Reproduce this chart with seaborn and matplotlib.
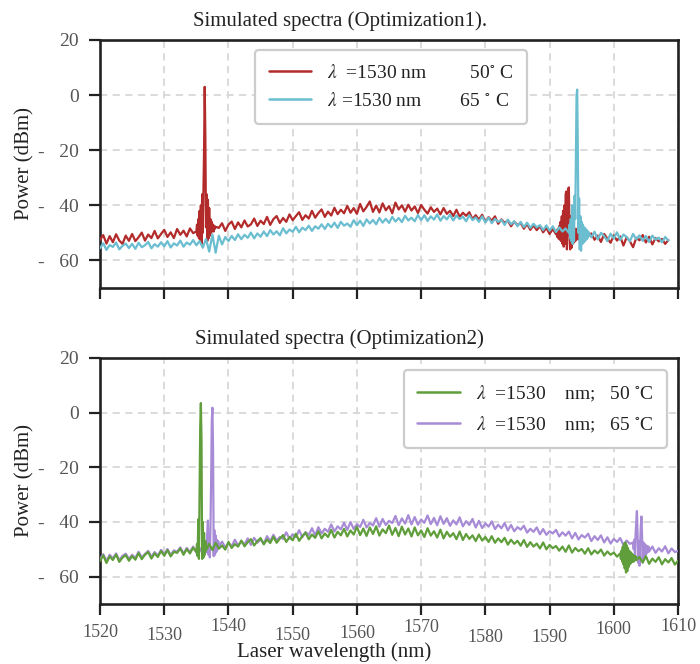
import numpy as np
import pandas as pd
import matplotlib
matplotlib.use("Agg")
import matplotlib.pyplot as plt
from matplotlib.transforms import ScaledTranslation
import seaborn as sns

# ---------------- data ----------------
titles = ["Simulated spectra (Optimization1).", "Simulated spectra (Optimization2)"]
x_label = "Laser wavelength (nm)"
y_label = "Power (dBm)"
x_ticks = [1520, 1530, 1540, 1550, 1560, 1570, 1580, 1590, 1600, 1610]
y_ticks = [20, 0, -20, -40, -60]
y_tick_labels = ["20", "0", "-   20", "-   40", "-   60"]

labels_top = [r"$\lambda$  =1530 nm         50$^{\circ}$ C",
              r"$\lambda$ =1530 nm        65 $^{\circ}$ C"]
labels_bot = [r"$\lambda$  =1530    nm;   50 $^{\circ}$C",
              r"$\lambda$  =1530    nm;   65 $^{\circ}$C"]

# --- top panel, 50 C (red) ---
red_a = [-52.5, -50.8, -53.9, -51.2, -53.4, -50.5, -52.8, -54.0, -51.0, -52.9,
         -50.4, -53.0, -51.6, -49.9, -52.8, -50.6, -51.9, -49.3, -52.0, -50.4,
         -48.9, -51.5, -49.8, -51.9, -48.6, -50.7, -49.2, -51.3, -48.4, -50.1]      # 1520-1534.5
red_pk1 = [-49.5, -47, -51, -45, -52, -42, -53, -40, -54, -36, -50, -35, -20, 3, -15, -48,
           -36, -53, -38, -52, -41, -51, -45, -50, -46, -49, -47, -49.5, -47.5, -48.5, -47.8]  # 1535.0-1538.0
red_b = [-48.2, -46.5, -49.3, -47.0, -45.9, -48.6, -46.2, -48.0, -45.5, -47.7,
         -46.9, -44.8, -47.5, -45.6, -46.8, -44.2, -47.1, -45.0, -43.9, -46.4,
         -44.6, -46.0, -43.3, -45.4, -43.9, -42.5, -45.3, -43.6, -44.8, -42.0,
         -44.5, -42.8, -41.5, -44.2, -42.3, -43.7, -40.9, -43.2, -41.6, -42.9,
         -40.2, -42.7, -41.0, -43.1, -39.5, -42.2, -40.6, -38.6, -42.4, -40.1,
         -42.6, -39.3, -41.8, -40.3, -42.9, -39.0, -41.5, -40.0, -42.3, -39.8,
         -41.9, -40.4, -42.8, -39.9, -41.6, -43.0, -40.7, -42.4, -41.2, -43.3,
         -41.0, -43.1, -42.0, -43.9, -41.6, -44.2, -42.7, -43.8, -42.5, -45.0,
         -43.6, -45.2, -43.4, -46.0, -44.3, -45.6, -44.0, -46.7, -45.1, -46.4,
         -45.5, -47.6, -45.9, -47.2, -46.4, -48.5, -46.8, -48.9, -47.3, -49.0,
         -47.6, -49.8, -48.2, -50.4, -48.6]                                          # 1538.5-1590.5
red_pk2 = [-50.5, -49.0, -51.5, -48.5, -52.0, -47.5, -52.5, -46.0, -53.0, -44.0,
           -54.0, -42.0, -55.0, -40.0, -54.0, -36.0, -35.0, -56.0, -45.0, -34.0,
           -33.5, -50.0, -56.0, -44.0, -55.5, -47.0, -54.0, -48.0, -53.5, -49.0,
           -53.0, -48.5, -52.5, -49.5, -52.0, -49.0, -52.5, -50.0, -52.0, -49.5,
           -51.5, -50.0, -52.0, -49.8, -51.8, -50.2, -52.0, -50.0, -51.5, -50.5, -51.2]  # 1591.0-1596.0
red_c = [-50.2, -52.5, -51.0, -53.3, -50.4, -52.1, -53.6, -50.9, -52.8, -51.3,
         -54.6, -51.6, -53.0, -55.2, -51.8, -52.7, -50.8, -53.5, -51.4, -54.2,
         -51.9, -53.1, -52.2, -54.0, -52.6]                                          # 1596.5-1608.5

# --- top panel, 65 C (cyan) ---
cyan_a = [-55.6, -53.8, -56.2, -54.4, -55.1, -53.5, -56.0, -54.7, -53.9, -55.5,
          -54.0, -55.8, -53.6, -55.2, -54.5, -53.3, -55.6, -54.1, -55.0, -53.4,
          -54.9, -53.0, -55.3, -53.8, -54.6, -52.8, -55.0, -53.5, -54.3, -52.6,
          -54.5, -53.0, -55.4, -52.2, -56.8, -50.6, -57.2, -51.0, -54.2, -51.5,
          -53.0, -51.1, -52.6, -50.5, -52.3, -50.7, -51.8, -49.9, -52.0, -50.2,
          -51.4, -49.5, -51.2, -49.0, -50.6, -49.4, -50.9, -48.3, -50.2, -48.8,
          -49.6, -47.8, -49.8, -48.1, -49.0, -47.4, -49.3, -47.6, -48.5, -46.9,
          -48.6, -46.7, -48.0, -46.3, -48.2, -46.0, -47.4, -46.6, -47.8, -45.4,
          -47.2, -45.6, -47.5, -45.1, -46.6, -45.3, -46.9, -44.6, -46.3, -44.9,
          -46.4, -44.2, -45.9, -44.6, -46.1, -43.8, -45.5, -44.5, -45.8, -43.5,
          -45.4, -43.6, -45.7, -44.0, -45.2, -43.3, -45.6, -43.9, -45.1, -43.4,
          -45.5, -43.7, -45.0, -44.1, -45.8, -43.6, -45.4, -44.4, -46.0, -44.0,
          -46.2, -44.5, -46.5, -44.9, -46.0, -45.3, -47.1, -45.2, -46.9, -45.8,
          -47.6, -46.0, -47.9, -46.3, -48.2, -46.7, -48.0, -47.2, -49.0, -47.3,
          -49.2, -47.6, -49.7, -48.0, -49.5, -48.4]                                  # 1520-1592.5
cyan_pk = [-50.0, -47.0, -52.0, -45.0, -53.0, -40.0, -54.0, -42.0, -53.0, -36.5,
           -45.0, -22.0, 0.0, 2.0, -20.0, -50.0, -37.5, -56.0, -44.0, -56.5,
           -46.0, -54.0, -47.0, -53.5, -48.0, -53.0, -48.5, -52.5, -49.0, -52.0, -49.5]  # 1593.0-1596.0
cyan_c = [-51.6, -49.6, -52.4, -50.0, -51.2, -53.0, -50.3, -52.1, -49.8, -52.6,
          -50.6, -51.5, -53.1, -50.4, -52.3, -50.9, -52.9, -51.1, -53.3, -51.0,
          -52.5, -51.7, -53.4, -51.5, -52.8]                                         # 1596.5-1608.5

# --- bottom panel, 50 C (green) ---
green_a = [-54.3, -52.2, -55.0, -52.6, -53.9, -51.9, -54.6, -53.0, -52.1, -54.2,
           -52.5, -53.8, -51.4, -53.6, -52.0, -51.0, -53.4, -51.5, -52.8, -50.6,
           -52.4, -50.3, -52.6, -50.9, -51.3, -49.7, -52.0, -49.9, -51.5, -49.4]     # 1520-1534.5
green_pk1 = [-51.0, -48.0, -52.5, -39.0, -53.5, -30.0, -5.0, 3.5, -10.0, -53.5,
             -40.0, -53.0, -44.0, -52.0, -47.0, -50.5]                              # 1535.0-1536.5
green_b = [-48.0, -50.3, -47.6, -49.8, -48.6, -50.1, -47.3, -49.5, -48.1, -49.0,
           -46.8, -48.9, -47.4, -46.3, -48.6, -47.0, -45.9, -48.2, -46.4, -47.7,
           -45.4, -47.6, -46.1, -44.8, -47.3, -45.5, -46.7, -44.3, -46.9, -45.2,
           -43.9, -46.3, -44.6, -45.8, -43.4, -46.0, -44.2, -45.5, -42.9, -45.7,
           -43.6, -44.9, -42.5, -45.3, -43.1, -44.6, -41.8, -44.8, -42.4, -45.1,
           -42.0, -44.4, -41.6, -45.0, -42.7, -44.1, -41.3, -44.7, -42.2, -45.2,
           -41.7, -44.6, -42.4, -45.3, -42.0, -44.9, -43.1, -45.5, -42.3, -45.0,
           -43.4, -45.7, -42.8, -46.0, -43.6, -45.4, -44.1, -46.3, -43.5, -46.6,
           -44.4, -46.2, -44.9, -47.0, -44.6, -46.8, -45.5, -47.3, -45.2, -47.6,
           -46.0, -47.4, -45.8, -48.3, -46.5, -48.0, -46.9, -48.7, -46.6, -49.1,
           -47.4, -49.0, -47.9, -49.7, -47.5, -50.0, -48.4, -49.6, -48.8, -50.5,
           -49.0, -50.9, -48.6, -51.2, -49.5, -50.7, -49.9, -51.6, -49.6, -51.9,
           -50.4, -51.5, -50.1, -52.3, -50.8, -52.0, -51.2, -52.7]                   # 1537.0-1600.5
green_pk2 = [-51.5, -53.5, -50.5, -54.5, -49.0, -55.5, -48.0, -57.0, -47.5, -58.5,
             -48.5, -58.0, -49.5, -56.5, -50.5, -55.5, -51.0, -55.0, -51.5, -54.5,
             -52.0, -54.5, -52.5, -54.0, -52.5, -54.0]                              # 1601.0-1603.5
green_c = [-52.8, -54.9, -52.5, -55.3, -53.4, -54.6, -52.9, -55.5, -53.6, -54.8,
           -53.2, -55.6, -54.2]                                                     # 1604.0-1610.0

# --- bottom panel, 65 C (purple) ---
purple_a = [-53.6, -51.8, -54.2, -52.0, -53.3, -51.5, -54.0, -52.4, -51.6, -53.5,
            -52.0, -53.2, -50.9, -53.0, -51.7, -50.6, -52.8, -51.0, -52.3, -50.2,
            -51.8, -49.9, -52.1, -50.4, -50.9, -49.3, -51.6, -49.5, -51.0, -49.0,
            -51.2, -49.4, -51.8]                                                    # 1520-1536.0
purple_pk1 = [-49.5, -51.0, -44.0, -39.5, -52.0, -46.0, -53.0, -42.0, -25.0, -3.0,
              1.8, -14.0, -52.5, -43.0, -52.0, -45.0, -51.0, -46.5, -50.0, -47.0, -49.0]  # 1536.5-1538.5
purple_b = [-47.2, -49.3, -47.8, -48.9, -46.5, -48.6, -47.1, -48.2, -46.0, -48.4,
            -45.8, -47.6, -46.4, -47.9, -45.2, -47.0, -44.7, -46.8, -45.5, -46.2,
            -43.8, -46.1, -44.5, -45.5, -43.0, -45.6, -43.7, -44.8, -42.3, -44.9,
            -41.9, -44.2, -42.5, -43.6, -40.9, -43.5, -41.6, -42.7, -40.3, -42.9,
            -40.0, -42.6, -40.8, -41.8, -39.2, -42.0, -40.4, -41.3, -38.6, -41.7,
            -38.9, -41.1, -39.6, -40.4, -37.8, -41.2, -38.7, -40.6, -37.5, -40.9,
            -38.2, -41.0, -39.1, -40.3, -37.6, -40.8, -38.5, -41.2, -37.9, -40.7,
            -38.6, -41.4, -39.4, -40.9, -38.3, -41.6, -39.7, -41.1, -38.9, -42.0,
            -39.6, -42.2, -40.5, -41.7, -39.8, -42.6, -41.0, -42.3, -40.4, -43.1,
            -41.1, -43.4, -41.9, -42.8, -41.4, -43.9, -42.5, -43.6, -42.0, -44.5,
            -42.6, -44.7, -43.4, -44.2, -42.9, -45.3, -43.8, -45.0, -43.5, -46.0,
            -44.0, -46.4, -44.8, -45.7, -44.3, -47.0, -45.2, -46.6, -44.9, -47.5,
            -45.6, -47.9, -46.2, -47.3, -45.9, -48.4, -46.8, -48.0]                 # 1539.0-1602.5
purple_pk2 = [-47.5, -50.0, -46.5, -52.0, -44.0, -40.0, -36.0, -44.0, -55.0, -47.0,
              -56.0, -48.0, -42.0, -38.0, -45.0, -54.0, -47.5, -53.0, -48.0, -52.0,
              -48.5, -51.5, -48.8, -51.0, -49.0, -50.8]                             # 1603.0-1605.5
purple_c = [-49.0, -51.3, -49.6, -50.8, -48.9, -51.5, -49.7, -51.0, -50.6]          # 1606.0-1610.0


def grid(a, b, step):
    return np.round(np.arange(a, b + step / 2, step), 2)


def build(segments, name):
    wl = np.concatenate([grid(a, b, s) for a, b, s, _ in segments])
    pw = np.concatenate([np.asarray(v, float) for _, _, _, v in segments])
    return pd.DataFrame({"wl": wl, "power": pw, "series": name})


df_red = build([(1520, 1534.5, 0.5, red_a), (1535, 1538, 0.1, red_pk1),
                (1538.5, 1590.5, 0.5, red_b), (1591, 1596, 0.1, red_pk2),
                (1596.5, 1608.5, 0.5, red_c)], labels_top[0])
df_cyan = build([(1520, 1592.5, 0.5, cyan_a), (1593, 1596, 0.1, cyan_pk),
                 (1596.5, 1608.5, 0.5, cyan_c)], labels_top[1])
df_green = build([(1520, 1534.5, 0.5, green_a), (1535, 1536.5, 0.1, green_pk1),
                  (1537, 1600.5, 0.5, green_b), (1601, 1603.5, 0.1, green_pk2),
                  (1604, 1610, 0.5, green_c)], labels_bot[0])
df_purple = build([(1520, 1536, 0.5, purple_a), (1536.5, 1538.5, 0.1, purple_pk1),
                   (1539, 1602.5, 0.5, purple_b), (1603, 1605.5, 0.1, purple_pk2),
                   (1606, 1610, 0.5, purple_c)], labels_bot[1])

# ---------------- style ----------------
sns.set_theme(style="ticks")
plt.rcParams["font.family"] = ["Liberation Serif", "DejaVu Serif"]
plt.rcParams["mathtext.fontset"] = "stix"

C_RED, C_CYAN, C_GREEN, C_PURPLE = "#b32a2a", "#6bbdd0", "#5f9e3a", "#a88bd6"
TICK_COLOR = "#555555"

fig = plt.figure(figsize=(7.0, 6.64), dpi=100)
ax1 = fig.add_axes([0.1429, 0.5663, 0.8257, 0.3735])
ax2 = fig.add_axes([0.1429, 0.0904, 0.8257, 0.3705])

lw = 1.6
sns.lineplot(data=df_red, x="wl", y="power", color=C_RED, lw=lw, ax=ax1,
             label=labels_top[0], estimator=None, zorder=3)
sns.lineplot(data=df_cyan, x="wl", y="power", color=C_CYAN, lw=lw, ax=ax1,
             label=labels_top[1], estimator=None, zorder=4)
sns.lineplot(data=df_green, x="wl", y="power", color=C_GREEN, lw=lw, ax=ax2,
             label=labels_bot[0], estimator=None, zorder=4)
sns.lineplot(data=df_purple, x="wl", y="power", color=C_PURPLE, lw=lw, ax=ax2,
             label=labels_bot[1], estimator=None, zorder=3)

x_offsets_px = [1, -2, 7, -2, 0, 6, -4, -4, 4, 7]

for ax, title in zip((ax1, ax2), titles):
    ax.set_xlim(1520, 1610)
    ax.set_ylim(-70, 20)
    ax.set_xticks(x_ticks)
    ax.set_yticks(y_ticks)
    ax.set_yticklabels(y_tick_labels)
    ax.grid(True, color="#d8d8d8", linestyle=(0, (4, 3)), linewidth=1.3, zorder=0)
    ax.set_axisbelow(True)
    for sp in ax.spines.values():
        sp.set_visible(True)
        sp.set_linewidth(1.9)
        sp.set_color("#222222")
    ax.tick_params(axis="both", direction="out", length=8, width=1.6,
                   color="#222222", labelcolor=TICK_COLOR)
    ax.tick_params(axis="y", pad=7, labelsize=14)
    ax.tick_params(axis="x", pad=7, labelsize=13)
    ax.set_title(title, fontsize=15, color="#222222", x=0.415, pad=10)
    ax.set_ylabel(y_label, fontsize=15, color="#222222", labelpad=3)
    ax.set_xlabel("")

ax1.tick_params(axis="x", labelbottom=False)
ax2.set_xlabel(x_label, fontsize=15, color="#222222")
ax2.xaxis.set_label_coords(0.405, -0.157)
for lab, dy in zip(ax2.get_xticklabels(), x_offsets_px):
    lab.set_transform(lab.get_transform() + ScaledTranslation(0, dy / 100, fig.dpi_scale_trans))

leg_kw = dict(fontsize=14, frameon=True, fancybox=True, handlelength=2.2,
              handletextpad=0.8, borderpad=0.7, labelspacing=0.55, borderaxespad=0)
l1 = ax1.legend(loc="upper left", bbox_to_anchor=(0.268, 0.96), **leg_kw)
l2 = ax2.legend(loc="upper right", bbox_to_anchor=(0.981, 0.951), **leg_kw)
for lg in (l1, l2):
    fr = lg.get_frame()
    fr.set_edgecolor("#cccccc")
    fr.set_linewidth(1.6)
    fr.set_alpha(1)
    for t in lg.get_texts():
        t.set_color("#222222")
    for h in lg.get_lines():
        h.set_linewidth(1.8)

fig.savefig("out.png", dpi=100)
